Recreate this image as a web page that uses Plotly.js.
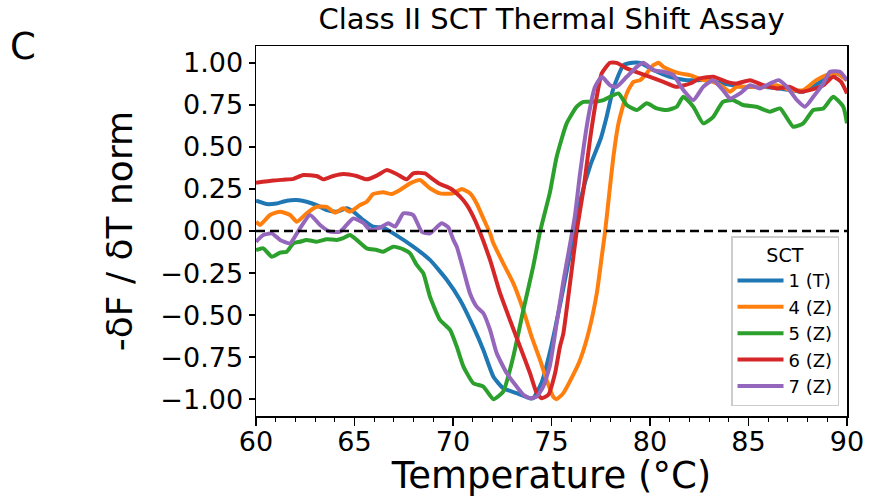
<!DOCTYPE html>
<html>
<head>
<meta charset="utf-8">
<script src="https://cdn.plot.ly/plotly-3.0.1.min.js"></script>
<style>html,body{margin:0;padding:0;background:#fff;}#chart{width:869px;height:497px;}</style>
</head>
<body>
<div id="chart"></div>
<script>
// ---- data ----
const seriesNames = ["1 (T)", "4 (Z)", "5 (Z)", "6 (Z)", "7 (Z)"];
const seriesColors = ["#1f77b4", "#ff7f0e", "#2ca02c", "#d62728", "#9467bd"];

const temp1 = [60, 60.54, 61.05, 61.56, 62.07, 62.57, 63.08, 63.59, 64.1, 64.6, 64.94, 65.45, 65.95, 66.46, 66.97, 67.98, 68.83, 69.68, 70.36, 71.03, 71.54, 72.05, 72.55, 73.23, 73.9, 74.07, 74.5, 75.0, 75.5, 76.0, 76.5, 77.0, 77.5, 77.8, 78.14, 78.65, 79.1, 79.5, 80.17, 81.0, 81.86, 82.88, 83.7, 84.72, 85.75, 87.1, 87.78, 88.8, 89.48, 90];
const norm1 = [0.18, 0.16, 0.164, 0.18, 0.184, 0.174, 0.154, 0.125, 0.115, 0.135, 0.115, 0.065, 0.026, 0.02, -0.014, -0.093, -0.172, -0.29, -0.41, -0.569, -0.707, -0.866, -0.935, -0.964, -0.994, -0.994, -0.9, -0.68, -0.4, -0.1, 0.2, 0.4, 0.55, 0.68, 0.848, 0.986, 1.0, 1.0, 0.957, 0.917, 0.897, 0.897, 0.877, 0.857, 0.857, 0.838, 0.828, 0.897, 0.937, 0.897];

const temp4 = [60, 60.2, 60.71, 61.22, 61.73, 62.07, 62.57, 63.08, 63.59, 64.01, 64.43, 64.77, 65.28, 65.62, 65.95, 66.46, 66.89, 67.31, 67.82, 68.32, 68.83, 69.34, 70.02, 70.44, 70.86, 71.2, 71.54, 71.88, 72.05, 72.55, 73.06, 73.57, 73.99, 74.42, 74.75, 75.09, 75.26, 75.6, 76.1, 76.45, 76.87, 77.3, 77.55, 77.72, 77.93, 78.14, 78.4, 78.82, 79.16, 79.5, 79.83, 80.17, 80.43, 80.68, 81.02, 81.52, 82.03, 82.7, 83.21, 83.7, 84.06, 84.4, 85.08, 85.75, 86.43, 87.1, 87.78, 88.44, 88.95, 89.48, 90];
const norm4 = [0.055, 0.036, 0.095, 0.115, 0.095, 0.055, 0.105, 0.144, 0.144, 0.109, 0.135, 0.115, 0.154, 0.174, 0.22, 0.23, 0.22, 0.244, 0.283, 0.303, 0.254, 0.224, 0.224, 0.25, 0.224, 0.164, 0.075, -0.014, -0.073, -0.192, -0.31, -0.47, -0.628, -0.767, -0.885, -0.985, -1.0, -0.964, -0.856, -0.767, -0.608, -0.37, -0.153, -0.004, 0.22, 0.44, 0.64, 0.818, 0.887, 0.897, 0.937, 0.986, 1.0, 0.976, 0.957, 0.937, 0.927, 0.897, 0.887, 0.857, 0.828, 0.857, 0.857, 0.857, 0.867, 0.838, 0.838, 0.897, 0.927, 0.937, 0.897];

const temp5 = [60, 60.37, 60.8, 61.22, 61.56, 61.9, 62.23, 62.57, 63.08, 63.59, 64.1, 64.43, 64.77, 65.11, 65.62, 66.13, 66.46, 66.97, 67.48, 67.82, 68.16, 68.49, 68.83, 69.34, 69.85, 70.19, 70.53, 71.03, 71.54, 72.05, 72.55, 73.06, 73.57, 74.07, 74.42, 74.92, 75.26, 75.77, 76.28, 76.62, 77.12, 77.64, 77.97, 78.4, 78.82, 79.33, 79.83, 80.34, 80.85, 81.36, 81.69, 82.2, 82.7, 83.21, 83.7, 84.23, 84.72, 85.41, 86.09, 86.6, 87.27, 87.78, 88.29, 88.8, 89.3, 89.81, 90];
const norm5 = [-0.113, -0.103, -0.153, -0.129, -0.123, -0.073, -0.064, -0.053, -0.064, -0.049, -0.053, -0.043, -0.024, -0.053, -0.103, -0.113, -0.123, -0.093, -0.109, -0.133, -0.202, -0.251, -0.39, -0.529, -0.588, -0.687, -0.806, -0.905, -0.925, -1.0, -0.955, -0.747, -0.47, -0.212, -0.004, 0.23, 0.44, 0.64, 0.739, 0.768, 0.768, 0.778, 0.798, 0.818, 0.749, 0.719, 0.759, 0.729, 0.719, 0.739, 0.798, 0.739, 0.64, 0.679, 0.768, 0.778, 0.749, 0.739, 0.709, 0.729, 0.62, 0.64, 0.719, 0.729, 0.798, 0.739, 0.64];

const temp6 = [60, 60.88, 61.4, 61.9, 62.4, 63.08, 63.42, 63.92, 64.43, 65.11, 65.62, 66.13, 66.63, 67.14, 67.65, 67.98, 68.58, 68.92, 69.34, 69.85, 70.36, 70.7, 71.03, 71.29, 71.88, 72.39, 72.89, 73.4, 73.91, 74.25, 74.5, 74.84, 75.18, 75.43, 75.6, 75.94, 76.28, 76.62, 76.95, 77.3, 77.55, 77.97, 78.3, 78.82, 79.5, 80.0, 80.68, 81.35, 82.03, 82.54, 83.21, 83.9, 84.4, 85.08, 85.75, 86.43, 87.1, 87.6, 88.1, 88.8, 89.3, 89.7, 90];
const norm6 = [0.287, 0.3, 0.305, 0.31, 0.333, 0.327, 0.307, 0.327, 0.339, 0.327, 0.307, 0.329, 0.362, 0.339, 0.307, 0.343, 0.343, 0.313, 0.279, 0.254, 0.204, 0.155, 0.085, 0.016, -0.172, -0.37, -0.529, -0.687, -0.846, -0.964, -0.994, -0.974, -0.846, -0.687, -0.61, -0.31, 0.0, 0.244, 0.54, 0.8, 0.937, 1.0, 1.0, 0.967, 0.937, 0.917, 0.887, 0.857, 0.877, 0.907, 0.917, 0.887, 0.877, 0.897, 0.867, 0.848, 0.857, 0.828, 0.838, 0.867, 0.917, 0.887, 0.818];

const temp7 = [60, 60.37, 60.8, 61.22, 61.73, 62.2, 62.74, 63.25, 63.76, 64.26, 64.6, 64.94, 65.45, 65.79, 66.29, 66.72, 67.06, 67.48, 67.98, 68.41, 68.83, 69.42, 69.76, 70.02, 70.19, 70.53, 70.86, 71.2, 71.54, 71.88, 72.22, 72.73, 73.23, 73.57, 73.91, 74.25, 74.58, 74.92, 75.26, 75.6, 75.94, 76.19, 76.45, 76.87, 77.21, 77.55, 77.97, 78.3, 78.82, 79.33, 79.66, 80.17, 80.68, 81.19, 81.69, 82.2, 82.7, 83.21, 83.7, 84.06, 84.57, 85.08, 85.58, 86.09, 86.52, 86.95, 87.46, 87.87, 88.29, 88.8, 89.14, 89.64, 90];
const norm7 = [-0.064, -0.024, -0.014, -0.053, -0.073, 0.01, 0.095, 0.036, -0.004, -0.004, 0.036, 0.075, 0.049, 0.006, 0.02, 0.046, 0.026, 0.105, 0.095, -0.004, -0.014, 0.046, 0.022, -0.053, -0.093, -0.232, -0.37, -0.45, -0.489, -0.588, -0.727, -0.846, -0.925, -0.974, -0.994, -0.985, -0.925, -0.8, -0.55, -0.3, -0.08, 0.09, 0.343, 0.679, 0.857, 0.917, 0.867, 0.857, 0.917, 0.976, 1.0, 0.957, 0.947, 0.927, 0.838, 0.778, 0.857, 0.897, 0.838, 0.788, 0.818, 0.867, 0.848, 0.877, 0.897, 0.857, 0.778, 0.739, 0.798, 0.877, 0.947, 0.947, 0.897];

const xTicks = [60, 65, 70, 75, 80, 85, 90];
const yTicks = [-1.0, -0.75, -0.5, -0.25, 0.0, 0.25, 0.5, 0.75, 1.0];

// ---- chart ----
const temps = [temp1, temp4, temp5, temp6, temp7];
const norms = [norm1, norm4, norm5, norm6, norm7];
const FONT = "DejaVu Sans, sans-serif";

const traces = seriesNames.map((name, i) => ({
  type: "scatter", mode: "lines", name: name,
  x: temps[i], y: norms[i],
  line: {color: seriesColors[i], width: 4, shape: "spline", smoothing: 0.5},
  hoverinfo: "skip"
}));

const layout = {
  width: 869, height: 497,
  margin: {l: 256, r: 22, t: 46, b: 81, pad: 0},
  paper_bgcolor: "#ffffff", plot_bgcolor: "#ffffff",
  font: {family: FONT, color: "#000000", size: 27},
  title: {
    text: "Class II SCT Thermal Shift Assay",
    font: {family: FONT, size: 29, color: "#000000"},
    x: 0.5, xref: "paper", xanchor: "center",
    y: 0.982, yref: "container", yanchor: "top"
  },
  xaxis: {
    range: [60, 90], tickvals: xTicks, ticks: "outside", ticklen: 8, tickwidth: 1.5,
    tickcolor: "#000", showline: true, linecolor: "#000", linewidth: 1.5, mirror: true,
    showgrid: false, zeroline: false, tickfont: {family: FONT, size: 27, color: "#000"},
    ticklabelstandoff: -7,
    minor: {dtick: 1, ticks: "outside", ticklen: 4, tickwidth: 1, tickcolor: "#000", showgrid: false},
    title: {text: "Temperature (°C)", font: {family: FONT, size: 37, color: "#000"}, standoff: 8}
  },
  yaxis: {
    range: [-1.1, 1.1], tickvals: yTicks, tickformat: ".2f", ticks: "outside", ticklen: 6, tickwidth: 1.5,
    tickcolor: "#000", showline: true, linecolor: "#000", linewidth: 1.5, mirror: true,
    showgrid: false, zeroline: false, tickfont: {family: FONT, size: 27, color: "#000"},
    title: {text: "-δF / δT norm", font: {family: FONT, size: 36, color: "#000"}, standoff: 16}
  },
  legend: {
    x: 0.9865, y: 0.027, xanchor: "right", yanchor: "bottom",
    bgcolor: "rgba(255,255,255,0.85)", bordercolor: "#cccccc", borderwidth: 1.5,
    font: {family: FONT, size: 18, color: "#000"},
    title: {text: "SCT", side: "top center", font: {family: FONT, size: 19, color: "#000"}},
    itemwidth: 46, tracegroupgap: 0
  },
  shapes: [{
    type: "line", layer: "above", xref: "paper", x0: 0, x1: 1, yref: "y", y0: 0, y1: 0,
    line: {color: "#000", width: 2.5, dash: "9px,5px"}
  }],
  annotations: [{
    text: "C", xref: "paper", yref: "paper", x: -0.394, y: 1.0,
    xanchor: "center", yanchor: "middle", showarrow: false,
    font: {family: FONT, size: 37, color: "#000"}
  }]
};

Plotly.newPlot("chart", traces, layout, {displayModeBar: false, staticPlot: true});
</script>
</body>
</html>
